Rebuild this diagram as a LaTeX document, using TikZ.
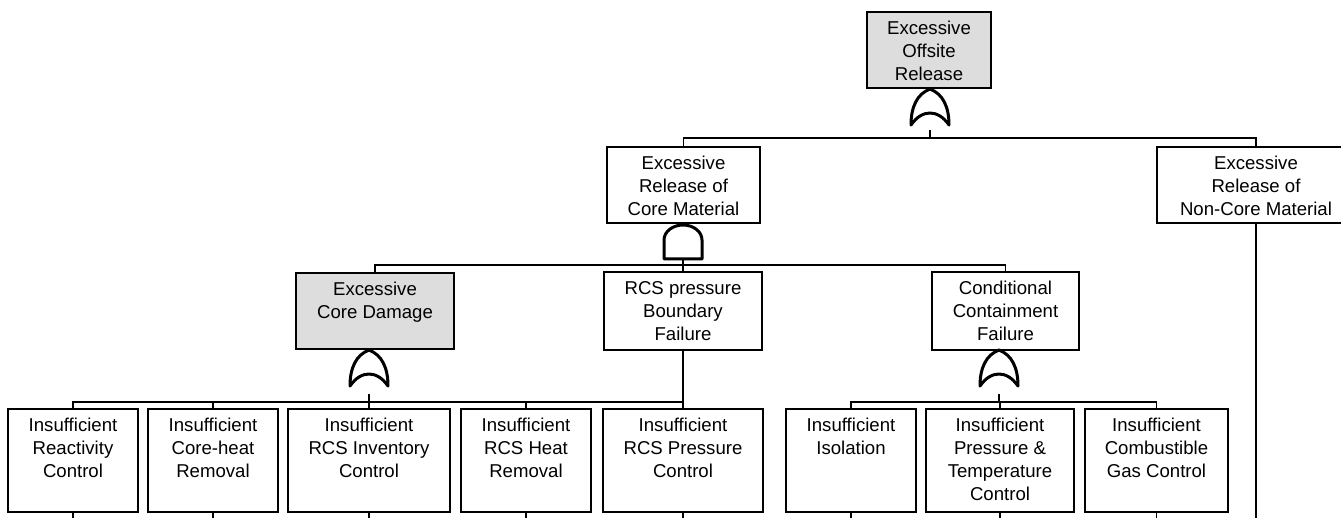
\documentclass[tikz,border=0pt]{standalone}
\usepackage{fontspec}
\setmainfont{Liberation Sans}
\usetikzlibrary{calc}
\newcommand\ftfont{\fontsize{9.3}{11.5}\selectfont}
\definecolor{evgray}{RGB}{221,221,221}
\tikzset{
  ftrect/.style={draw, line width=0.7pt, inner sep=0pt},
  fttext/.style={anchor=north, inner sep=0pt, align=center, font=\ftfont, yshift=-4.8pt},
  link/.style={line width=0.7pt},
  gateline/.style={line width=1.5pt, line join=round},
  orgate/.pic={
    \draw[gateline] (-19,0) .. controls (-19,-18) and (-13,-31) .. (0,-36)
      .. controls (13,-31) and (19,-18) .. (19,0)
      .. controls (8,-16) and (-8,-16) .. cycle;},
  andgate/.pic={
    \draw[gateline] (-19,0) -- (-19,-19)
      arc[start angle=180, end angle=0, x radius=9.5pt, y radius=7.5pt]
      -- (19,0) -- cycle;},
}
% event box: [fill]{name}{x1}{y1}{x2}{y2}{text}, corners in pixel units
\newcommand\ftbox[7][white]{%
  \node[ftrect, fill=#1, minimum width={(#5-#3)*0.5pt}, minimum height={(#6-#4)*0.5pt}]
    (#2) at ({(#3+#5)/2},{(#4+#6)/2}) {};
  \node[fttext] (#2-t) at (#2.north) {#7};}
\begin{document}
\begin{tikzpicture}[x=0.5pt, y=-0.5pt]
\useasboundingbox (0,0) rectangle (1341,518);

% top event
\ftbox[evgray]{offsite}{867}{12}{991}{88}{Excessive\\Offsite\\Release}
% first level
\ftbox{coreMat}{607}{147}{760}{223}{Excessive\\Release of\\Core Material}
\ftbox{nonCore}{1157}{147}{1355}{223}{Excessive\\Release of\\Non-Core Material}
% second level
\ftbox[evgray]{coreDmg}{296}{273}{454}{349}{Excessive\\Core Damage}
\ftbox{rcsBnd}{604}{272}{762}{350}{RCS pressure\\Boundary\\Failure}
\ftbox{condCont}{932}{272}{1079}{350}{Conditional\\Containment\\Failure}
% basic functions
\ftbox{r1}{8}{409}{138}{512}{Insufficient\\Reactivity\\Control}
\ftbox{r2}{148}{409}{278}{512}{Insufficient\\Core-heat\\Removal}
\ftbox{r3}{288}{409}{450}{512}{Insufficient\\RCS Inventory\\Control}
\ftbox{r4}{461}{409}{591}{512}{Insufficient\\RCS Heat\\Removal}
\ftbox{r5}{603}{409}{763}{512}{Insufficient\\RCS Pressure\\Control}
\ftbox{r6}{786}{409}{916}{512}{Insufficient\\Isolation}
\ftbox{r7}{926}{409}{1074}{512}{Insufficient\\Pressure \&\\Temperature\\Control}
\ftbox{r8}{1085}{409}{1228}{512}{Insufficient\\Combustible\\Gas Control}

% gates
\pic at (930,125) {orgate};
\pic at (683,259) {andgate};
\pic at (369,386) {orgate};
\pic at (999,386) {orgate};

% gate outputs and buses
\coordinate (g0) at (930,130);  \coordinate (b0) at (930,138);
\coordinate (g1) at (683,259);  \coordinate (b1) at (683,265);
\coordinate (g2) at (369,394);  \coordinate (b2) at (369,402);
\coordinate (g3) at (999,394);  \coordinate (b3) at (999,402);

\draw[link] (g0) -- (b0);
\draw[link] (b0) -| (coreMat.north);
\draw[link] (b0) -| (nonCore.north);

\draw[link] (g1) -- (b1);
\draw[link] (b1) -| (coreDmg.north);
\draw[link] (b1) -- (rcsBnd.north);
\draw[link] (b1) -| (condCont.north);

\draw[link] (g2) -- (b2);
\foreach \n in {r1,r2,r3,r4,r5} \draw[link] (b2) -| (\n.north);
\draw[link] (rcsBnd.south) -- (r5.north);

\draw[link] (g3) -- (b3);
\foreach \n in {r6,r7,r8} \draw[link] (b3) -| (\n.north);

% continuations below the page edge
\foreach \n in {r1,r2,r3,r4,r5,r6,r7,r8,nonCore} \draw[link] (\n.south) -- ++(0,320);
\end{tikzpicture}
\end{document}
